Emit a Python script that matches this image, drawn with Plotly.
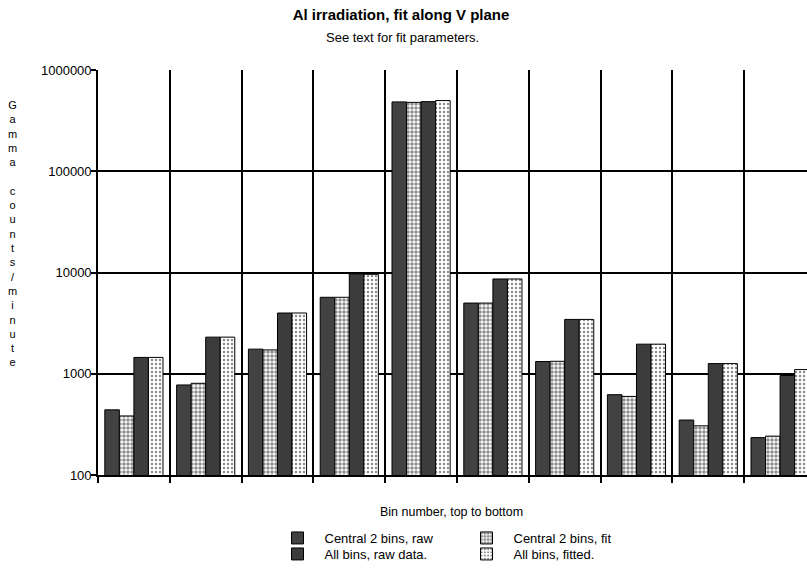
import plotly.graph_objects as go

# ---- data ----
bins = ["1", "2", "3", "4", "5", "6", "7", "8", "9", "10"]
central_raw = [440, 775, 1750, 5690, 484000, 4990, 1320, 621, 349, 234]
central_fit = [383, 805, 1720, 5690, 479000, 4990, 1327, 597, 306, 242]
all_raw = [1450, 2300, 3980, 9700, 487000, 8630, 3440, 1960, 1260, 961]
all_fit = [1450, 2300, 3980, 9600, 499000, 8630, 3440, 1960, 1260, 1100]

y_tickvals = [100, 1000, 10000, 100000, 1000000]
y_ticktext = ["100", "1000", "10000", "100000", "1000000"]

title = "Al irradiation, fit along V plane"
subtitle = "See text for fit parameters."
x_title = "Bin number, top to bottom"
y_title = "Gamma counts/minute"

FONT = "Liberation Sans, Arial, sans-serif"

W, H = 807, 569
L, R, T, B = 98, 0, 70, 94
plot_h = H - T - B
plot_w = W - L - R


def py(pix):
    """pixel y (from top) -> paper y"""
    return (H - B - pix) / plot_h


def px(pix):
    return (pix - L) / plot_w


fig = go.Figure()

series = [
    ("Central 2 bins, raw", central_raw, dict(color="#424242"), "legend"),
    ("Central 2 bins, fit", central_fit,
     dict(color="white", pattern=dict(shape=".", size=4, solidity=0.6,
                                       fgcolor="#1a1a1a", bgcolor="white")), "legend2"),
    ("All bins, raw data.", all_raw, dict(color="#3c3c3c"), "legend3"),
    ("All bins, fitted.", all_fit,
     dict(color="white", pattern=dict(shape=".", size=4, solidity=0.3,
                                       fgcolor="#1a1a1a", bgcolor="white")), "legend4"),
]

for name, vals, mk, lg in series:
    mk = dict(mk)
    mk["line"] = dict(color="black", width=1)
    fig.add_trace(go.Bar(name=name, x=bins, y=vals, marker=mk, legend=lg, showlegend=True))

legend_common = dict(font=dict(family=FONT, size=13, color="black"),
                     bgcolor="rgba(0,0,0,0)", itemwidth=44, visible=True,
                     xanchor="left", yanchor="middle", borderwidth=0)

fig.update_layout(
    width=W, height=H,
    margin=dict(l=L, r=R, t=T, b=B, pad=0),
    paper_bgcolor="white", plot_bgcolor="white",
    barmode="group", bargap=0.19, bargroupgap=0,
    showlegend=True,
    font=dict(family=FONT, color="black"),
    title=dict(text="<b>" + title + "</b>", x=401 / W, xanchor="center",
               y=1 - 15 / H, yanchor="middle", xref="container", yref="container",
               font=dict(family=FONT, size=15, color="black")),
    legend=dict(x=px(270.5), y=py(538), **legend_common),
    legend2=dict(x=px(459.5), y=py(538), **legend_common),
    legend3=dict(x=px(270.5), y=py(554), **legend_common),
    legend4=dict(x=px(459.5), y=py(554), **legend_common),
    xaxis=dict(type="category", range=[-0.5, 9.375], tickson="boundaries",
               showticklabels=False, ticks="outside", ticklen=6, tickcolor="black",
               tickwidth=1.5, showgrid=True, gridcolor="black", gridwidth=1.6,
               showline=True, linecolor="black", linewidth=1.6, zeroline=False),
    yaxis=dict(type="log", range=[2, 6], tickvals=y_tickvals, ticktext=y_ticktext,
               ticks="outside", ticklen=5, tickcolor="black", tickwidth=1.5,
               ticklabelstandoff=-3,
               showgrid=True, gridcolor="black", gridwidth=1.6,
               showline=True, linecolor="black", linewidth=1.6,
               tickfont=dict(family=FONT, size=13, color="black")),
)

letters = [ch if ch != " " else "\u00a0" for ch in y_title]
annotations = [
    dict(text=subtitle, x=px(402), y=py(37), xref="paper", yref="paper",
         showarrow=False, xanchor="center", yanchor="middle",
         font=dict(family=FONT, size=13, color="black")),
    dict(text=x_title, x=px(451), y=py(512), xref="paper", yref="paper",
         showarrow=False, xanchor="center", yanchor="middle",
         font=dict(family=FONT, size=12.5, color="black")),
    dict(text="<br>".join(letters), x=px(12), y=py(234), xref="paper", yref="paper",
         showarrow=False, xanchor="center", yanchor="middle", align="center",
         font=dict(family=FONT, size=11, color="black")),
]
fig.update_layout(annotations=annotations)

fig.write_html("out.html",
               config={"displayModeBar": False},
               post_script="document.body.style.margin='0';document.body.style.overflow='hidden';")
